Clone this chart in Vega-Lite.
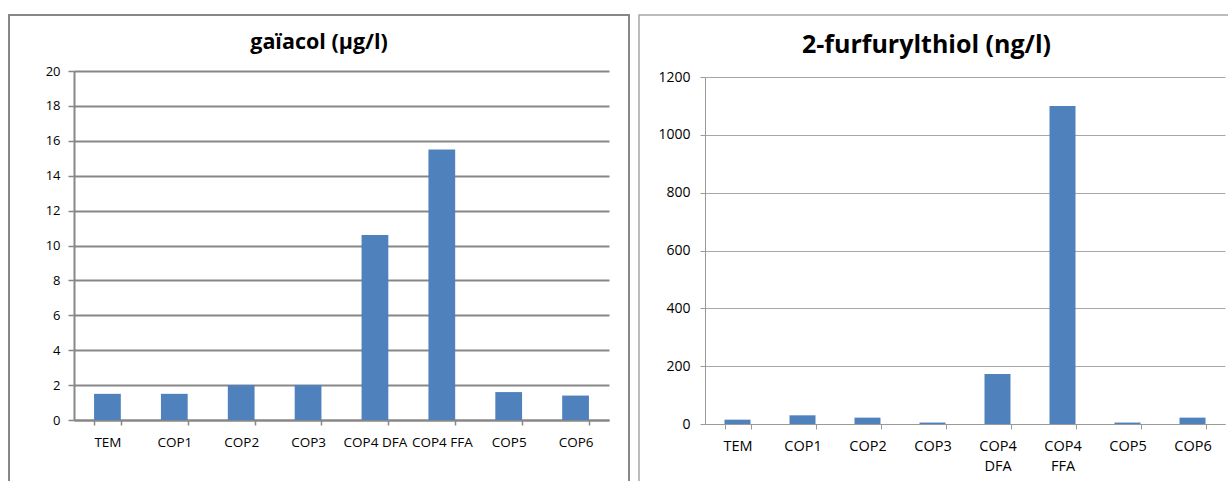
{
  "$schema": "https://vega.github.io/schema/vega-lite/v6.json",
  "background": "white",
  "padding": {"left": 8, "top": 14, "right": 0, "bottom": 0},
  "spacing": 8,
  "config": {
    "font": "Open Sans",
    "axis": {"labelColor": "#000000", "title": null, "labelFont": "Open Sans"},
    "title": {"color": "#000000", "font": "Open Sans", "fontWeight": "bold"}
  },
  "datasets": {
    "gaiacol": [
      {"echantillon": "TEM", "valeur": 1.5},
      {"echantillon": "COP1", "valeur": 1.5},
      {"echantillon": "COP2", "valeur": 2.0},
      {"echantillon": "COP3", "valeur": 2.0},
      {"echantillon": "COP4 DFA", "valeur": 10.6},
      {"echantillon": "COP4 FFA", "valeur": 15.5},
      {"echantillon": "COP5", "valeur": 1.6},
      {"echantillon": "COP6", "valeur": 1.4}
    ],
    "furfurylthiol": [
      {"echantillon": "TEM", "valeur": 15},
      {"echantillon": "COP1", "valeur": 30},
      {"echantillon": "COP2", "valeur": 22},
      {"echantillon": "COP3", "valeur": 5},
      {"echantillon": "COP4 DFA", "valeur": 173},
      {"echantillon": "COP4 FFA", "valeur": 1100},
      {"echantillon": "COP5", "valeur": 5},
      {"echantillon": "COP6", "valeur": 22}
    ]
  },
  "hconcat": [
    {
      "width": 620,
      "height": 466,
      "view": {"stroke": "#878787", "strokeWidth": 2, "strokeDash": [1086, 620, 466]},
      "title": {"text": "gaïacol (µg/l)", "fontSize": 21.5, "anchor": "middle", "frame": "group", "offset": -38},
      "data": {"name": "gaiacol"},
      "mark": {"type": "bar", "color": "#4f81bd"},
      "encoding": {
        "x": {
          "field": "echantillon", "type": "nominal", "sort": null,
          "scale": {"range": [65, 600], "paddingInner": 0.6, "paddingOuter": 0.3},
          "axis": {
            "orient": "bottom", "offset": -61, "labelAngle": 0, "labelFontSize": 13.5,
            "labelPadding": 10, "labelOverlap": false, "domainColor": "#878787", "domainWidth": 2,
            "tickColor": "#878787", "tickWidth": 1.5, "tickSize": 5, "tickBand": "extent", "grid": false
          }
        },
        "y": {
          "field": "valeur", "type": "quantitative",
          "scale": {"domain": [0, 20], "range": [405, 56], "nice": false},
          "axis": {
            "orient": "left", "offset": -65, "values": [0, 2, 4, 6, 8, 10, 12, 14, 16, 18, 20],
            "format": "d",
            "labelFontSize": 13, "labelPadding": 8, "domainColor": "#878787", "domainWidth": 2,
            "tickColor": "#878787", "tickWidth": 1.5, "tickSize": 6,
            "grid": true, "gridColor": "#878787", "gridWidth": 2
          }
        }
      }
    },
    {
      "width": 589,
      "height": 466,
      "view": {"stroke": "#a6a6a6", "strokeWidth": 1.5, "strokeDash": [589, 1055, 466]},
      "title": {"text": "2-furfurylthiol (ng/l)", "fontSize": 25, "anchor": "middle", "frame": "group", "offset": -43, "dx": -7},
      "data": {"name": "furfurylthiol"},
      "mark": {"type": "bar", "color": "#4f81bd"},
      "encoding": {
        "x": {
          "field": "echantillon", "type": "nominal", "sort": null,
          "scale": {"range": [66, 586], "paddingInner": 0.6, "paddingOuter": 0.3},
          "axis": {
            "orient": "bottom", "offset": -57, "labelAngle": 0, "labelFontSize": 14.5,
            "labelPadding": 10, "labelOverlap": false, "labelLineHeight": 20,
            "labelExpr": "split(datum.label, ' ')",
            "domainColor": "#9a9a9a", "domainWidth": 1,
            "tickColor": "#9a9a9a", "tickWidth": 1, "tickSize": 5, "tickBand": "extent", "grid": false
          }
        },
        "y": {
          "field": "valeur", "type": "quantitative",
          "scale": {"domain": [0, 1200], "range": [409, 62], "nice": false},
          "axis": {
            "orient": "left", "offset": -66, "values": [0, 200, 400, 600, 800, 1000, 1200],
            "format": "d",
            "labelFontSize": 14, "labelPadding": 10, "domainColor": "#9a9a9a", "domainWidth": 1,
            "tickColor": "#9a9a9a", "tickWidth": 1, "tickSize": 5,
            "grid": true, "gridColor": "#a6a6a6", "gridWidth": 1
          }
        }
      }
    }
  ]
}
